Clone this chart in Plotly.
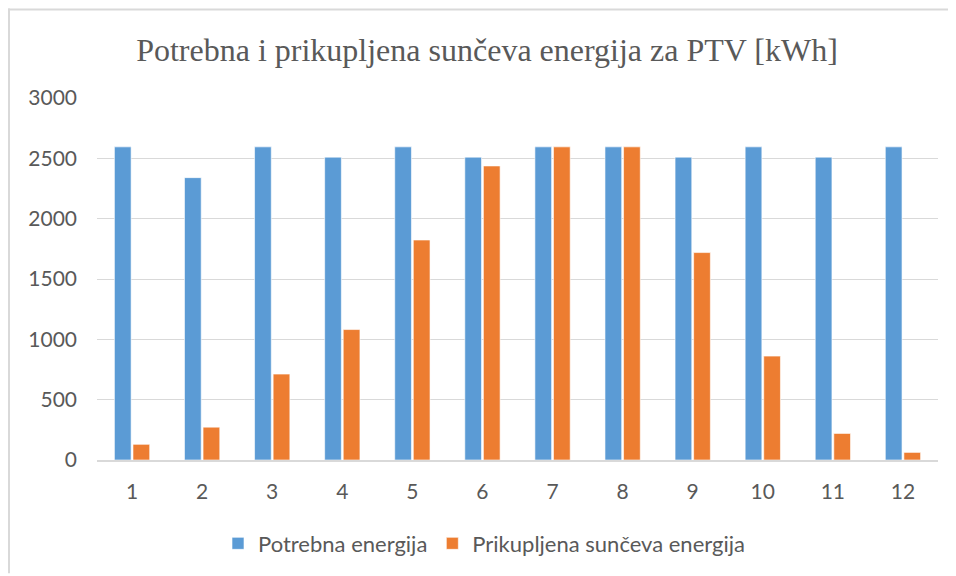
import plotly.graph_objects as go

months = ["1", "2", "3", "4", "5", "6", "7", "8", "9", "10", "11", "12"]
potrebna = [2595, 2340, 2595, 2510, 2595, 2510, 2595, 2595, 2510, 2595, 2510, 2595]
prikupljena = [130, 272, 712, 1081, 1823, 2437, 2595, 2595, 1719, 861, 220, 63]
y_ticks = [0, 500, 1000, 1500, 2000, 2500, 3000]

# page places the figure at an 8px offset; work in reference-window coords
OFF = 8
W, H = 956 - OFF, 576 - OFF
ML, MR, MT = 97 - OFF, 18, 98 - OFF
MB = H - (462 - OFF)
pw, ph = W - ML - MR, H - MT - MB

def px(x):
    return (x - OFF - ML) / pw

def py(y):
    return (H - MB - (y - OFF)) / ph

fig = go.Figure()
fig.add_trace(go.Bar(x=months, y=potrebna, name="Potrebna energija",
                     marker=dict(color="#5B9BD5", line=dict(color="rgba(255,255,255,0.6)", width=1))))
fig.add_trace(go.Bar(x=months, y=prikupljena, name="Prikupljena sunčeva energija",
                     marker=dict(color="#ED7D31", line=dict(color="rgba(255,255,255,0.6)", width=1))))

fig.update_layout(
    width=W, height=H,
    margin=dict(l=ML, r=MR, t=MT, b=MB, pad=0),
    paper_bgcolor="white", plot_bgcolor="white",
    barmode="group", bargap=0.47, bargroupgap=0.1,
    title=dict(text="Potrebna i prikupljena sunčeva energija za PTV [kWh]",
               font=dict(family="Liberation Serif", size=32, color="#595959"),
               x=(487 - OFF) / W, xanchor="center", xref="container",
               y=1 - (50 - OFF) / H, yanchor="middle", yref="container"),
    font=dict(family="Lato", size=21, color="#595959"),
    legend=dict(orientation="h", x=px(484), xanchor="center", y=py(546), yanchor="middle",
                font=dict(family="Lato", size=22, color="#595959"), itemwidth=30, traceorder="normal"),
    showlegend=True,
)
fig.update_xaxes(type="category", showgrid=False, showline=True, linecolor="#d9d9d9", linewidth=1.5,
                 ticks="", ticklabelstandoff=12, tickfont=dict(family="Lato", size=21, color="#595959"))
fig.update_yaxes(range=[0, 3000], tickvals=y_ticks, showgrid=True, gridcolor="#d9d9d9", gridwidth=1.3,
                 zeroline=False, showline=False, ticks="", ticklabelstandoff=19,
                 tickfont=dict(family="Lato", size=21, color="#595959"))

# chart frame (top and left edges visible in the reference)
fig.add_shape(type="line", xref="paper", yref="paper", x0=px(8), x1=px(956), y0=py(9), y1=py(9),
              line=dict(color="#d9d9d9", width=2))
fig.add_shape(type="line", xref="paper", yref="paper", x0=px(9), x1=px(9), y0=py(8), y1=py(576),
              line=dict(color="#d9d9d9", width=2))

fig.write_html("out.html", config={"displayModeBar": False})
